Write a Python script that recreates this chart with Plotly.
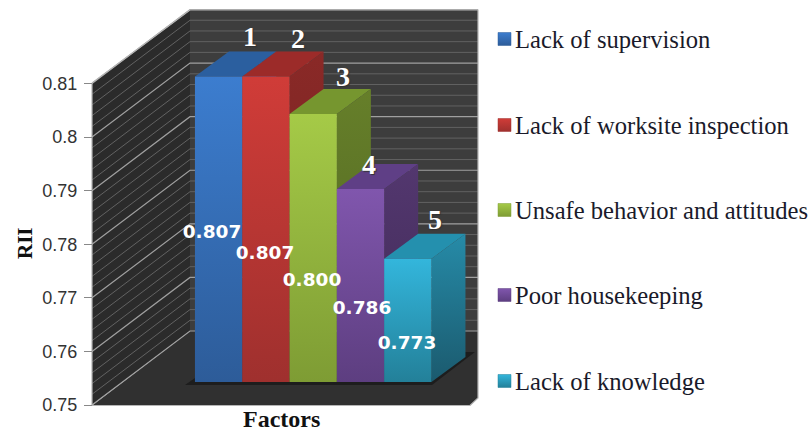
import plotly.graph_objects as go

# ---- chart data ----
categories = ["Lack of supervision", "Lack of worksite inspection",
              "Unsafe behavior and attitudes", "Poor housekeeping", "Lack of knowledge"]
rii_values = [0.807, 0.807, 0.800, 0.786, 0.773]
value_labels = ["0.807", "0.807", "0.800", "0.786", "0.773"]
ranks = ["1", "2", "3", "4", "5"]
y_ticks = [0.75, 0.76, 0.77, 0.78, 0.79, 0.80, 0.81]
y_tick_labels = ["0.75", "0.76", "0.77", "0.78", "0.79", "0.8", "0.81"]

front_colors = [("#3c7dcf", "#2d5c99"), ("#d03c38", "#9f302e"), ("#a5ca47", "#7e9c34"),
                ("#8056ad", "#5d3e80"), ("#33b6dc", "#238099")]
top_colors = ["#2b5f9f", "#9c2b29", "#76962f", "#5f3f86", "#2490ae"]
side_colors = [("#2b5f9f", "#1f4675"), ("#8a2927", "#6d2220"), ("#667f2a", "#4f6420"),
               ("#53376f", "#3f2a55"), ("#268ba8", "#1b5a6e")]

# ---- scales and projection ----
W, H = 809, 433
PX_PER_UNIT = 5358.0
Y0_PX = 405.0           # pixel row of 0.75 on the front axis edge
BAR_W = 47.3
BAR0_PX = 218.6         # pixel column of the first bar's centre


def xd(px):
    return (px - BAR0_PX) / BAR_W


def yd(py):
    return 0.75 + (Y0_PX - py) / PX_PER_UNIT


def pts(seq):
    return [xd(p[0]) for p in seq] + [xd(seq[0][0])], [yd(p[1]) for p in seq] + [yd(seq[0][1])]


fig = go.Figure()


def poly(seq, color=None, grad=None):
    x, y = pts(seq)
    t = dict(x=x, y=y, mode="lines", fill="toself", line=dict(width=0), hoverinfo="skip", showlegend=False)
    if grad:
        t["fillgradient"] = dict(type="vertical", colorscale=[[0, grad[1]], [1, grad[0]]])
    else:
        t["fillcolor"] = color
    fig.add_trace(go.Scatter(**t))


def line(seq, color, width=1):
    fig.add_trace(go.Scatter(x=[xd(p[0]) for p in seq], y=[yd(p[1]) for p in seq], mode="lines",
                             line=dict(color=color, width=width), hoverinfo="skip", showlegend=False))


# walls and floor
WX0, WX1 = 92, 190
WRIGHT = 478
DY = 74
poly([(WX0, 83), (WX1, 10), (WX1, 331), (WX0, 405)], "#2b2b2b")
poly([(WX1, 10), (WRIGHT, 10), (WRIGHT, 331), (WX1, 331)], "#3d3d3d")
poly([(WX0, 405.5), (470, 405.5), (WRIGHT, 398), (WRIGHT, 331), (WX1, 331)], "#303030")

for k in range(31):
    v = 0.75 + k * 0.002
    major = k % 5 == 0
    c = "#a0a0a0" if major else "#626262"
    w = 1.2 if major else 1
    py = Y0_PX - (v - 0.75) * PX_PER_UNIT
    line([(WX0, py), (WX1, py - DY), (WRIGHT, py - DY)], c, w)

line([(WX0, 83), (WX1, 10), (WRIGHT, 10), (WRIGHT, 398), (470, 405.5), (WX0, 405.5), (WX0, 83)], "#b5b5b5", 1.2)

# bar shadow on the floor
poly([(185, 385), (432, 385), (475, 352), (465, 352), (431, 378), (195, 378)], "#1d1d1d")

# bars in oblique projection
LIFT = 23.0
DEPTH_X, DEPTH_Y = 34.0, -25.0
for i, v in enumerate(rii_values):
    xl = BAR0_PX + (i - 0.5) * BAR_W
    xr = xl + BAR_W
    bot = Y0_PX - LIFT
    top = bot - (v - 0.75) * PX_PER_UNIT
    poly([(xl, top), (xr, top), (xr + DEPTH_X, top + DEPTH_Y), (xl + DEPTH_X, top + DEPTH_Y)], top_colors[i])
    poly([(xr, top), (xr + DEPTH_X, top + DEPTH_Y), (xr + DEPTH_X, bot + DEPTH_Y), (xr, bot)], grad=side_colors[i])
    poly([(xl, top), (xr, top), (xr, bot), (xl, bot)], grad=front_colors[i])

# value labels
label_px = [(212, 233), (265, 254), (312, 281), (362, 309), (407, 344)]
fig.add_trace(go.Scatter(x=[xd(p[0]) for p in label_px], y=[yd(p[1]) for p in label_px], mode="text",
                         text=value_labels, textposition="middle center", hoverinfo="skip", showlegend=False,
                         textfont=dict(family="DejaVu Sans", size=18.5, color="white", weight="bold")))
# rank labels
rank_px = [(250, 39), (298, 41), (343, 79), (369, 167), (435, 222)]
fig.add_trace(go.Scatter(x=[xd(p[0]) for p in rank_px], y=[yd(p[1]) for p in rank_px], mode="text",
                         text=ranks, textposition="middle center", hoverinfo="skip", showlegend=False,
                         textfont=dict(family="Liberation Serif", size=28, color="white", weight="bold",
                                       shadow="1px 1px 1px #333333")))

# legend
legend_rows = [39, 125, 210, 295, 381]
for name, py, fc in zip(categories, legend_rows, front_colors):
    fig.add_trace(go.Scatter(x=[xd(504.5)], y=[yd(py)], mode="markers", hoverinfo="skip", showlegend=False,
                             marker=dict(symbol="square", size=13, color=fc[0], line=dict(width=0.5, color=fc[1]),
                                         gradient=dict(type="vertical", color=fc[1]))))
    fig.add_annotation(x=xd(513), y=yd(py), text=name, showarrow=False, xanchor="left", yanchor="middle",
                       font=dict(family="Liberation Serif", size=24.6, color="#1a1a2a"))

fig.add_annotation(x=xd(281), y=yd(433), text="<b>Factors</b>", showarrow=False, yanchor="bottom",
                   borderpad=0, font=dict(family="Liberation Serif", size=24, color="#111111"))
fig.add_annotation(x=xd(25), y=yd(243), text="<b>RII</b>", showarrow=False, textangle=-90,
                   font=dict(family="Liberation Serif", size=21, color="#111111"))

fig.update_layout(
    width=W, height=H, margin=dict(l=0, r=0, t=0, b=0), paper_bgcolor="white", plot_bgcolor="white",
    showlegend=False,
    xaxis=dict(range=[xd(0), xd(W)], visible=False, domain=[0, 1], fixedrange=True),
    yaxis=dict(range=[yd(H), yd(0)], anchor="free", position=92 / W, tickmode="array", tickvals=y_ticks,
               ticktext=y_tick_labels, ticks="outside", ticklen=8, tickcolor="#888888", showgrid=False,
               zeroline=False, showline=False, ticklabelstandoff=3,
               tickfont=dict(family="Liberation Sans", size=18, color="#333333"),
               fixedrange=True),
)
fig.write_html("out.html", config=dict(displayModeBar=False),
               post_script="document.body.style.margin='0';document.body.style.overflow='hidden';")
